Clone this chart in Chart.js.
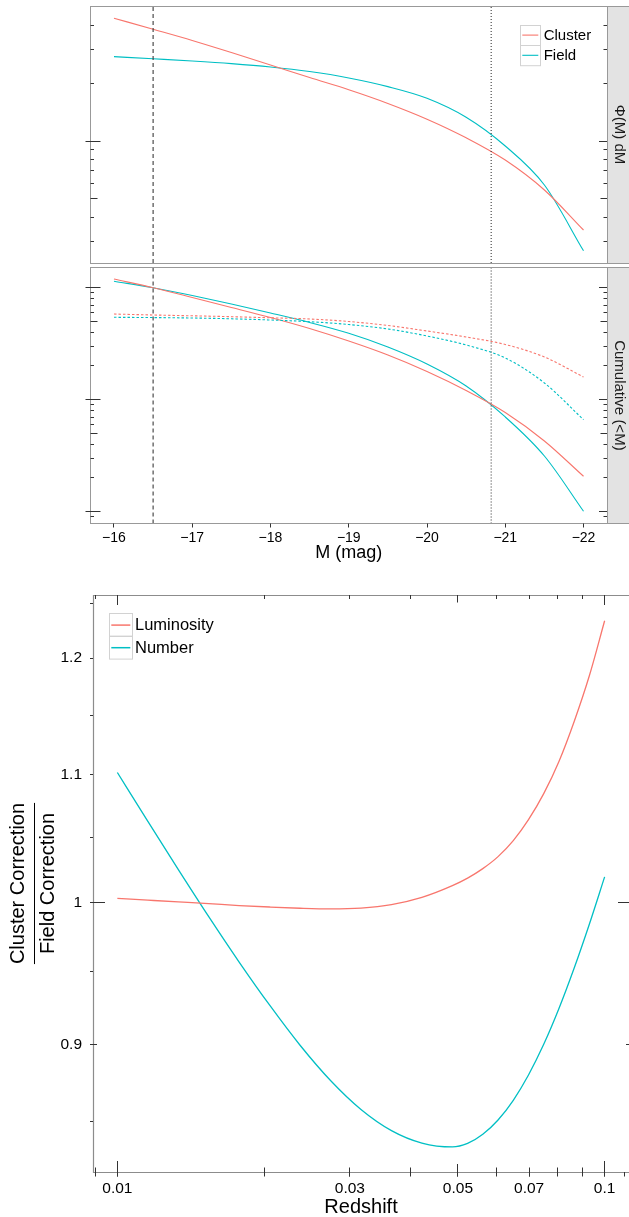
<!DOCTYPE html>
<html>
<head>
<meta charset="utf-8">
<script src="https://cdn.jsdelivr.net/npm/chart.js@4.4.1/dist/chart.umd.min.js"></script>
<style>
  html, body { margin: 0; padding: 0; background: #fff; }
  body { width: 629px; height: 1217px; position: relative; overflow: hidden; }
  canvas { position: absolute; left: 0; }
  #lfChart { top: 0; }
  #cumChart { top: 264px; }
  #ratioChart { top: 570px; }
</style>
</head>
<body>
<canvas id="lfChart" width="629" height="268"></canvas>
<canvas id="cumChart" width="629" height="300"></canvas>
<canvas id="ratioChart" width="629" height="647"></canvas>
<script>
const RED = '#F8766D';
const TEAL = '#00BFC4';
const FONT = "'Liberation Sans', Arial, Helvetica, sans-serif";

// Luminosity functions, M in mag
const magnitudes = [-16, -16.5, -17, -17.5, -18, -18.5, -19, -19.5, -20, -20.5, -21, -21.5, -22];
const clusterLF = [43.6, 38.2, 33.4, 28.9, 24.9, 21.4, 18.5, 15.7, 13.0, 10.4, 7.96, 5.56, 3.44];
const fieldLF = [27.5, 26.8, 26.1, 25.3, 24.3, 23.0, 21.3, 19.2, 16.7, 13.3, 9.42, 5.90, 2.68];

// Cumulative (<M): solid = number, dotted = light
const clusterCum = [1.196, 1.0, 0.818, 0.666, 0.542, 0.432, 0.334, 0.2506, 0.1786, 0.1208, 0.0769, 0.0428, 0.0207];
const fieldCum = [1.141, 1.0, 0.852, 0.715, 0.594, 0.489, 0.3916, 0.2954, 0.2083, 0.1325, 0.0701, 0.0314, 0.01008];
const clusterCumLight = [0.582, 0.5705, 0.561, 0.551, 0.5385, 0.5255, 0.499, 0.46, 0.4106, 0.3629, 0.3111, 0.2405, 0.1595];
const fieldCumLight = [0.544, 0.541, 0.5363, 0.5276, 0.5146, 0.497, 0.469, 0.4278, 0.3704, 0.3079, 0.2357, 0.141, 0.0663];

const magTicks = [-16, -17, -18, -19, -20, -21, -22];
const faintCut = -16.5;
const brightCut = -20.82;

// Cluster / field correction vs redshift
const redshifts = [0.01, 0.01155, 0.01334, 0.0154, 0.01778, 0.02054, 0.02371, 0.02738, 0.03162, 0.03652, 0.04217,
  0.0487, 0.05233, 0.05623, 0.06043, 0.06494, 0.06978, 0.07499, 0.08058, 0.0866, 0.09306, 0.1];
const luminosityRatio = [1.0034, 1.0021, 1.0008, 0.9995, 0.9981, 0.9970, 0.9961, 0.9956, 0.9962, 0.9988, 1.0042,
  1.0130, 1.0187, 1.0259, 1.0351, 1.0475, 1.0640, 1.0848, 1.1111, 1.1447, 1.1845, 1.2338];
const numberRatio = [1.1020, 1.0627, 1.0252, 0.9899, 0.9570, 0.9267, 0.8995, 0.8762, 0.8575, 0.8441, 0.8363,
  0.8339, 0.8361, 0.8418, 0.8508, 0.8634, 0.8798, 0.9001, 0.9244, 0.9527, 0.9845, 1.0196];

const redshiftTicks = [0.01, 0.03, 0.05, 0.07, 0.1];
const ratioTicks = [0.9, 1, 1.1, 1.2];
const ratioMinorTicks = [0.85, 0.95, 1.05, 1.15, 1.25];

// axis limits
const magRange = [-22.3, -15.7];
const lfRange = [2.316, 50.48];
const cumRange = [0.00784, 1.521];
const zRange = [Math.pow(10, -2.05), Math.pow(10, -0.95)];
const ratioRange = [0.8185, 1.2577];

const crisp = v => Math.round(v - 0.5) + 0.5;
const pts = (xs, ys) => xs.map((x, i) => ({ x, y: ys[i] }));

function curve(label, xs, ys, color, extra) {
  return Object.assign({
    label, data: pts(xs, ys), borderColor: color, borderWidth: 1.1,
    pointRadius: 0, fill: false, cubicInterpolationMode: 'monotone'
  }, extra || {});
}

function vline(x, range, dash) {
  return {
    label: '', data: [{ x, y: range[0] }, { x, y: range[1] }],
    borderColor: '#3a3a3a', borderWidth: 1.1, borderDash: dash, pointRadius: 0
  };
}

function logTicks(min, max) {
  const out = [];
  for (let e = Math.floor(Math.log10(min)); e <= Math.ceil(Math.log10(max)); e++) {
    for (let m = 1; m <= 9; m++) {
      const v = m * Math.pow(10, e);
      if (v < min || v > max) continue;
      out.push({ v, kind: m === 1 ? 'major' : (m === 5 ? 'mid' : 'minor') });
    }
  }
  return out;
}

function drawLegend(chart, L) {
  const ctx = chart.ctx;
  const items = chart.data.datasets.filter(d => d.inLegend);
  ctx.save();
  items.forEach((d, i) => {
    const top = L.y + i * L.h;
    ctx.fillStyle = '#fff';
    ctx.fillRect(L.x, top, L.w, L.h);
    ctx.strokeStyle = '#d2d2d2';
    ctx.lineWidth = 1;
    ctx.strokeRect(crisp(L.x), crisp(top), L.w, L.h);
    ctx.strokeStyle = d.borderColor;
    ctx.lineWidth = L.lw;
    ctx.beginPath();
    ctx.moveTo(L.x + 2, top + L.h / 2);
    ctx.lineTo(L.x + L.w - 2, top + L.h / 2);
    ctx.stroke();
    ctx.fillStyle = '#000';
    ctx.font = L.font;
    ctx.textAlign = 'left';
    ctx.textBaseline = 'middle';
    ctx.fillText(d.label, L.x + L.w + L.gap, top + L.h / 2 + 0.5);
  });
  ctx.restore();
}

// facet panel: border, strip on the right, log ticks on both sides
function facetDecor(cfg) {
  return {
    id: 'facetDecor',
    beforeDatasetsDraw(chart) {
      const { ctx, chartArea: a, width } = chart;
      ctx.save();
      ctx.fillStyle = '#e3e3e3';
      ctx.fillRect(a.right, a.top, width - a.right, a.bottom - a.top);
      ctx.restore();
    },
    afterDatasetsDraw(chart) {
      const { ctx, chartArea: a, width, scales } = chart;
      ctx.save();
      ctx.strokeStyle = '#999';
      ctx.lineWidth = 1;
      ctx.strokeRect(crisp(a.left), crisp(a.top), width + 2 - crisp(a.left), crisp(a.bottom) - crisp(a.top));
      ctx.beginPath();
      ctx.moveTo(crisp(a.right), a.top);
      ctx.lineTo(crisp(a.right), a.bottom);
      ctx.stroke();

      ctx.strokeStyle = '#333';
      const y = scales.y;
      const left = { major: [-5, 10], mid: [0, 7], minor: [0, 3.5] };
      const right = { major: [-8, 0], mid: [-6.5, 0], minor: [-3.5, 0] };
      logTicks(y.min, y.max).forEach(t => {
        const py = crisp(y.getPixelForValue(t.v));
        if (py < a.top + 2 || py > a.bottom - 2) return;
        ctx.beginPath();
        ctx.moveTo(a.left + left[t.kind][0], py);
        ctx.lineTo(a.left + left[t.kind][1], py);
        ctx.moveTo(a.right + right[t.kind][0], py);
        ctx.lineTo(a.right + right[t.kind][1], py);
        ctx.stroke();
      });

      if (cfg.xAxis) {
        const x = scales.x;
        ctx.beginPath();
        magTicks.forEach(m => {
          const px = crisp(x.getPixelForValue(m));
          ctx.moveTo(px, a.bottom);
          ctx.lineTo(px, a.bottom + 4);
        });
        ctx.stroke();
        ctx.fillStyle = '#000';
        ctx.textAlign = 'center';
        ctx.textBaseline = 'middle';
        ctx.font = '14px ' + FONT;
        magTicks.forEach(m => {
          ctx.fillText('\u2212' + Math.abs(m), x.getPixelForValue(m), a.bottom + 15);
        });
        ctx.font = '18px ' + FONT;
        ctx.fillText('M (mag)', (a.left + a.right) / 2, a.bottom + 30);
      }

      ctx.fillStyle = '#1a1a1a';
      ctx.font = '15px ' + FONT;
      ctx.textAlign = 'center';
      ctx.textBaseline = 'middle';
      ctx.translate((a.right + width) / 2 + 1, (a.top + a.bottom) / 2);
      ctx.rotate(Math.PI / 2);
      ctx.fillText(cfg.strip, 0, 0);
      ctx.restore();

      if (cfg.legend) drawLegend(chart, cfg.legend);
    }
  };
}

const hiddenScales = (xr, yr) => ({
  x: { type: 'linear', min: xr[0], max: xr[1], reverse: true, display: false },
  y: { type: 'logarithmic', min: yr[0], max: yr[1], display: false }
});

const baseOptions = {
  responsive: false,
  animation: false,
  events: [],
  plugins: { legend: { display: false }, tooltip: { enabled: false } }
};

// Φ(M) dM panel
new Chart(document.getElementById('lfChart'), {
  type: 'line',
  data: {
    datasets: [
      vline(faintCut, lfRange, [4, 3]),
      vline(brightCut, lfRange, [1, 2]),
      curve('Cluster', magnitudes, clusterLF, RED, { inLegend: true }),
      curve('Field', magnitudes, fieldLF, TEAL, { inLegend: true })
    ]
  },
  options: Object.assign({}, baseOptions, {
    layout: { padding: { left: 90.5, right: 22, top: 6, bottom: 5 } },
    scales: hiddenScales(magRange, lfRange)
  }),
  plugins: [facetDecor({
    strip: '\u03A6(M) dM',
    legend: { x: 520.3, y: 25, w: 20, h: 20.2, gap: 3.4, lw: 1.1, font: '15px ' + FONT }
  })]
});

// Cumulative (<M) panel
new Chart(document.getElementById('cumChart'), {
  type: 'line',
  data: {
    datasets: [
      vline(faintCut, cumRange, [4, 3]),
      vline(brightCut, cumRange, [1, 2]),
      curve('Cluster light', magnitudes, clusterCumLight, RED, { borderDash: [2.5, 2] }),
      curve('Field light', magnitudes, fieldCumLight, TEAL, { borderDash: [2.5, 2] }),
      curve('Cluster', magnitudes, clusterCum, RED),
      curve('Field', magnitudes, fieldCum, TEAL)
    ]
  },
  options: Object.assign({}, baseOptions, {
    layout: { padding: { left: 90.5, right: 22, top: 3.3, bottom: 40.5 } },
    scales: hiddenScales(magRange, cumRange)
  }),
  plugins: [facetDecor({ strip: 'Cumulative (<M)', xAxis: true })]
});

// correction ratio vs redshift
const ratioDecor = {
  id: 'ratioDecor',
  afterDatasetsDraw(chart) {
    const { ctx, chartArea: a, width, scales } = chart;
    const x = scales.x, y = scales.y;
    ctx.save();

    ctx.strokeStyle = '#8c8c8c';
    ctx.lineWidth = 1.2;
    ctx.beginPath();
    ctx.moveTo(width, crisp(a.top));
    ctx.lineTo(crisp(a.left), crisp(a.top));
    ctx.lineTo(crisp(a.left), crisp(a.bottom));
    ctx.lineTo(width, crisp(a.bottom));
    ctx.stroke();

    ctx.strokeStyle = '#333';
    ctx.lineWidth = 1;
    ctx.beginPath();
    // x log ticks, bottom and top
    const inLen = { major: 11, mid: 8, minor: 4.5 };
    const topLen = { major: 10, mid: 7.5, minor: 4 };
    logTicks(x.min, x.max).forEach(t => {
      const px = crisp(x.getPixelForValue(t.v));
      ctx.moveTo(px, a.bottom + 4.5);
      ctx.lineTo(px, a.bottom - inLen[t.kind]);
      ctx.moveTo(px, a.top);
      ctx.lineTo(px, a.top + topLen[t.kind]);
    });
    redshiftTicks.concat([0.11]).forEach(v => {
      const px = crisp(x.getPixelForValue(v));
      ctx.moveTo(px, a.bottom);
      ctx.lineTo(px, a.bottom + 4.5);
    });
    // y ticks
    ratioTicks.concat(ratioMinorTicks).forEach(v => {
      const py = crisp(y.getPixelForValue(v));
      ctx.moveTo(a.left - 3, py);
      ctx.lineTo(a.left, py);
    });
    const yLen = { major: 12, mid: 7, minor: 4 };
    logTicks(y.min, y.max).forEach(t => {
      const py = crisp(y.getPixelForValue(t.v));
      ctx.moveTo(a.left, py);
      ctx.lineTo(a.left + yLen[t.kind], py);
      ctx.moveTo(a.right, py);
      ctx.lineTo(a.right - yLen[t.kind] + 1, py);
    });
    ctx.stroke();

    ctx.fillStyle = '#000';
    ctx.textBaseline = 'middle';
    ctx.font = '15.5px ' + FONT;
    ctx.textAlign = 'center';
    redshiftTicks.forEach(v => ctx.fillText(String(v), x.getPixelForValue(v), a.bottom + 16.5));
    ctx.textAlign = 'right';
    ratioTicks.forEach(v => ctx.fillText(String(v), a.left - 11, y.getPixelForValue(v)));

    ctx.font = '20px ' + FONT;
    ctx.textAlign = 'center';
    ctx.fillText('Redshift', (a.left + a.right) / 2, a.bottom + 35);

    // fraction-style y title
    const cy = (a.top + a.bottom) / 2;
    const wide = Math.max(ctx.measureText('Cluster Correction').width, ctx.measureText('Field Correction').width);
    ctx.translate(0, cy);
    ctx.rotate(-Math.PI / 2);
    ctx.fillText('Cluster Correction', 0, 18);
    ctx.fillText('Field Correction', 0, 48.5);
    ctx.strokeStyle = '#000';
    ctx.lineWidth = 1;
    ctx.beginPath();
    ctx.moveTo(-wide / 2, 34.5);
    ctx.lineTo(wide / 2, 34.5);
    ctx.stroke();
    ctx.restore();

    drawLegend(chart, { x: 109.3, y: 43.8, w: 23, h: 22.6, gap: 2.7, lw: 1.5, font: '16.5px ' + FONT });
  }
};

new Chart(document.getElementById('ratioChart'), {
  type: 'line',
  data: {
    datasets: [
      curve('Luminosity', redshifts, luminosityRatio, RED, { borderWidth: 1.3, inLegend: true }),
      curve('Number', redshifts, numberRatio, TEAL, { borderWidth: 1.3, inLegend: true })
    ]
  },
  options: Object.assign({}, baseOptions, {
    layout: { padding: { left: 93, right: 0, top: 25, bottom: 45 } },
    scales: {
      x: { type: 'logarithmic', min: zRange[0], max: zRange[1], display: false },
      y: { type: 'logarithmic', min: ratioRange[0], max: ratioRange[1], display: false }
    }
  }),
  plugins: [ratioDecor]
});
</script>
</body>
</html>
